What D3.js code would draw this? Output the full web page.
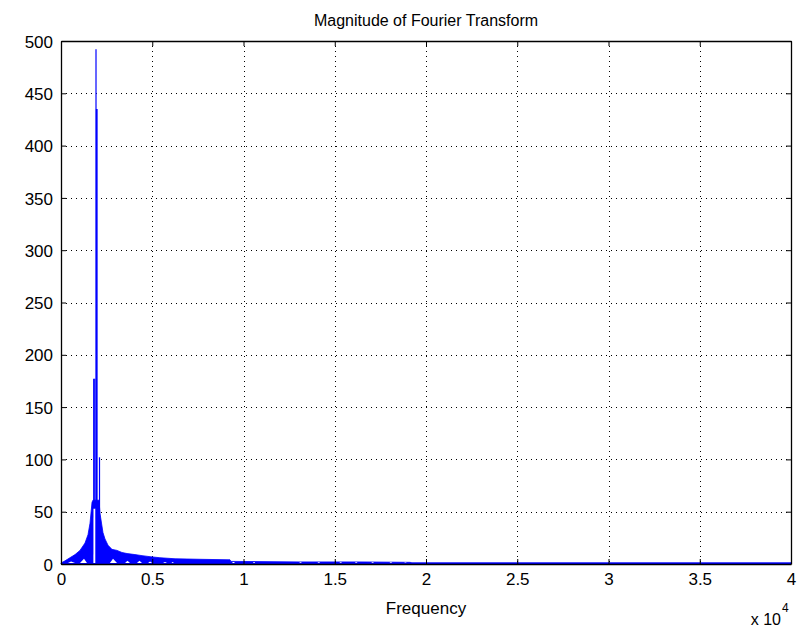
<!DOCTYPE html>
<html>
<head>
<meta charset="utf-8">
<script src="https://cdn.jsdelivr.net/npm/d3@7"></script>
<style>
  html, body { margin: 0; padding: 0; background: #ffffff; }
  svg { display: block; }
  text { font-family: "Liberation Sans", Arial, sans-serif; fill: #000; }
</style>
</head>
<body>
<div id="chart"></div>
<script>
// ---------------- DATA ----------------
const titleText = "Magnitude of Fourier Transform";
const xLabelText = "Frequency";

const xTickValues = [0, 5000, 10000, 15000, 20000, 25000, 30000, 35000, 40000];
const xTickLabels = ["0", "0.5", "1", "1.5", "2", "2.5", "3", "3.5", "4"];
const yTickValues = [0, 50, 100, 150, 200, 250, 300, 350, 400, 450, 500];

// upper envelope of the dense spectrum (Hz, magnitude)
const envFreq = [0, 220, 490, 770, 1040, 1315, 1480, 1590, 1700, 1750, 2080, 2140, 2300, 2410, 2575, 2790, 3070, 3340, 3620, 4050, 4440, 4880, 5420, 6250, 7620, 9260, 9310, 13100, 16380, 19120, 19230, 40000];
const envMag  = [1, 3, 6, 9, 13, 20, 28, 39, 59, 61, 61, 48, 30, 24, 18, 14, 13, 11, 10, 9, 8, 7, 6, 5, 4.5, 4, 2.5, 2, 2, 1.6, 1.2, 1.2];

// white gaps where the spectrum does not reach down to the baseline
const gapStart    = [380, 1040, 1775, 2680, 3510, 4160, 4770, 5590, 6050, 9370, 10520, 13050, 14050, 15250, 16100, 17000, 18000, 18800];
const gapTopStart = [550, 1260, 1780, 2850, 3640, 4300, 4880, 5700, 6120, 9420, 10560, 13100, 14100, 15300, 16150, 17050, 18050, 18850];
const gapTopEnd   = [550, 1260, 1905, 2850, 3640, 4300, 4880, 5700, 6120, 9480, 10600, 13150, 14150, 15350, 16200, 17100, 18100, 18900];
const gapEnd      = [770, 1420, 1910, 3070, 3780, 4440, 4990, 5810, 6190, 9530, 10630, 13200, 14200, 15400, 16250, 17150, 18150, 18950];
const gapTop      = [2.5, 5, 53, 5, 3, 3, 2.5, 2, 1.8, 2, 2, 1.7, 1.7, 1.7, 1.7, 1.7, 1.7, 1.5];

// narrow spectral peaks (frequency, foot, top)
const spikeFreq = [1792, 1850, 1918, 1945, 1973, 2110];
const spikeBase = [53, 53, 0, 0, 0, 0];
const spikeMag  = [177, 177, 492, 435, 435, 102];

// ---------------- CHART ----------------
const W = 803, H = 630;
const mL = 61, mR = 791, mT = 41, mB = 564;
const blue = "#0000ff";

const svg = d3.select("#chart").append("svg")
  .attr("width", W).attr("height", H);

const x = d3.scaleLinear().domain([0, 40000]).range([mL, mR]);
const y = d3.scaleLinear().domain([0, 500]).range([mB, mT]);

// grid
const grid = svg.append("g").attr("stroke", "#000").attr("stroke-width", 1)
  .attr("stroke-dasharray", "1,4").attr("shape-rendering", "crispEdges");
xTickValues.slice(1, -1).forEach(v => {
  grid.append("line").attr("x1", Math.round(x(v)) + 0.5).attr("x2", Math.round(x(v)) + 0.5)
    .attr("y1", mT).attr("y2", mB);
});
yTickValues.slice(1, -1).forEach(v => {
  grid.append("line").attr("y1", Math.round(y(v)) + 0.5).attr("y2", Math.round(y(v)) + 0.5)
    .attr("x1", mL).attr("x2", mR);
});

// envelope area
const envData = envFreq.map((f, i) => [f, envMag[i]]);
svg.append("path").datum(envData)
  .attr("fill", blue).attr("stroke", blue).attr("stroke-width", 0.8)
  .attr("d", d3.area().x(d => x(d[0])).y0(y(0)).y1(d => y(d[1])));

// gaps
const gapBase = 1.0;
gapStart.forEach((s, i) => {
  const pts = [[s, gapBase], [gapTopStart[i], gapTop[i]], [gapTopEnd[i], gapTop[i]], [gapEnd[i], gapBase]];
  svg.append("path").attr("fill", "#fff")
    .attr("d", d3.line().x(d => x(d[0])).y(d => y(d[1]))(pts) + "Z");
});

// spikes
const spikeLine = d3.line().x(d => x(d[0])).y(d => y(d[1]));
spikeFreq.forEach((f, i) => {
  svg.append("path").datum([[f, spikeBase[i]], [f, spikeMag[i]]])
    .attr("fill", "none").attr("stroke", blue).attr("stroke-width", 1.2)
    .attr("d", spikeLine);
});

// axes
const fs = 17;
const xAxis = d3.axisBottom(x).tickValues(xTickValues)
  .tickFormat((d, i) => xTickLabels[i]).tickSizeInner(-5).tickSizeOuter(0).tickPadding(9);
const gx = svg.append("g").attr("transform", `translate(0,${mB})`).call(xAxis);
const yAxis = d3.axisLeft(y).tickValues(yTickValues).tickSizeInner(-5).tickSizeOuter(0).tickPadding(8);
const gy = svg.append("g").attr("transform", `translate(${mL},0)`).call(yAxis);
const gxt = svg.append("g").attr("transform", `translate(0,${mT})`)
  .call(d3.axisTop(x).tickValues(xTickValues).tickFormat("").tickSizeInner(-5).tickSizeOuter(0));
const gyr = svg.append("g").attr("transform", `translate(${mR},0)`)
  .call(d3.axisRight(y).tickValues(yTickValues).tickFormat("").tickSizeInner(-5).tickSizeOuter(0));
[gx, gy, gxt, gyr].forEach(g => {
  g.selectAll(".domain").attr("stroke", "#000").attr("stroke-width", 1.3);
  g.selectAll(".tick line").attr("stroke", "#000");
  g.selectAll("text").attr("font-size", fs).attr("font-family", "Liberation Sans, Arial, sans-serif").attr("fill", "#000");
});
gx.selectAll("text").attr("dy", "0.71em");
gy.selectAll("text").attr("dy", "0.36em");

// title & labels
svg.append("text").attr("x", (mL + mR) / 2).attr("y", 26)
  .attr("text-anchor", "middle").attr("font-size", 16).text(titleText);
svg.append("text").attr("x", (mL + mR) / 2).attr("y", 614)
  .attr("text-anchor", "middle").attr("font-size", 17).text(xLabelText);
svg.append("text").attr("x", 781).attr("y", 625)
  .attr("text-anchor", "end").attr("font-size", 16).text("x 10");
svg.append("text").attr("x", 782).attr("y", 612).attr("font-size", 12).text("4");
</script>
</body>
</html>
